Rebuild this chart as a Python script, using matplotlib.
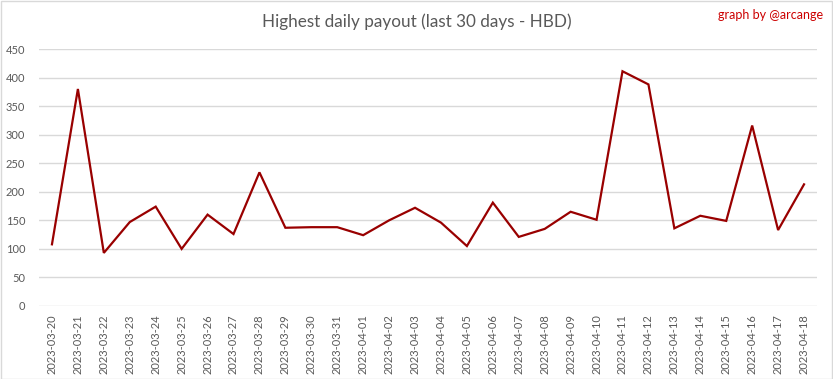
import matplotlib
matplotlib.use("Agg")
import matplotlib.pyplot as plt
from matplotlib.patches import Rectangle

dates = ["2023-03-20", "2023-03-21", "2023-03-22", "2023-03-23", "2023-03-24", "2023-03-25",
         "2023-03-26", "2023-03-27", "2023-03-28", "2023-03-29", "2023-03-30", "2023-03-31",
         "2023-04-01", "2023-04-02", "2023-04-03", "2023-04-04", "2023-04-05", "2023-04-06",
         "2023-04-07", "2023-04-08", "2023-04-09", "2023-04-10", "2023-04-11", "2023-04-12",
         "2023-04-13", "2023-04-14", "2023-04-15", "2023-04-16", "2023-04-17", "2023-04-18"]
payout = [108, 380, 93, 147, 174, 100, 160, 126, 234, 137, 138, 138, 124, 150, 172, 146,
          105, 181, 121, 135, 165, 151, 411, 388, 136, 158, 149, 316, 133, 213]
yticks = [0, 50, 100, 150, 200, 250, 300, 350, 400, 450]

plt.rcParams['font.family'] = ['Lato', 'DejaVu Sans']

W, H = 833, 379
fig = plt.figure(figsize=(W / 100, H / 100), dpi=100)
fig.patches.append(Rectangle((0.5 / W, 0.5 / H), 1 - 1.5 / W, 1 - 1.5 / H, transform=fig.transFigure,
                             fill=False, edgecolor="#d9d9d9", linewidth=1))

ax = fig.add_axes([39 / W, 1 - 306 / H, (817 - 39) / W, (306 - 49) / H])
x = list(range(len(dates)))
ax.plot(x, payout, color="#990000", linewidth=1.6, solid_joinstyle="miter")
ax.set_xlim(-0.5, len(dates) - 0.5)
ax.set_ylim(0, 450)
ax.set_yticks(yticks)
ax.set_yticklabels([str(v) for v in yticks])
ax.set_xticks(x)
ax.set_xticklabels(dates, rotation=90)
ax.grid(axis="y", color="#d9d9d9", linewidth=1)
ax.set_axisbelow(True)
for s in ax.spines.values():
    s.set_visible(False)
ax.tick_params(axis="both", length=0, labelsize=8, colors="#595959", pad=6)
ax.tick_params(axis="y", pad=10)

fig.text(0.5, 1 - 22 / H, "Highest daily payout (last 30 days - HBD)", ha="center", va="center",
         fontsize=12.3, color="#595959")
fig.text(823 / W, 1 - 15 / H, "graph by @arcange", ha="right", va="center",
         fontsize=9, color="#cc0000")

fig.savefig("out.png", dpi=100)
